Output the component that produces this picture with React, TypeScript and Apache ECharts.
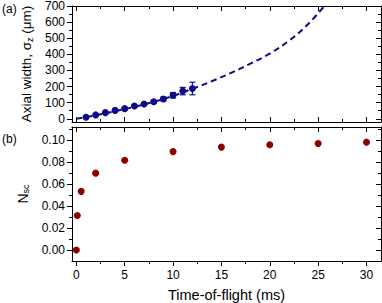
import React, { useEffect, useRef } from 'react';
import * as echarts from 'echarts';

// Panel (a): axial width vs time-of-flight
const timeA = [1, 2, 3, 4, 5, 6, 7, 8, 9, 10, 11, 12];
const sigmaZ = [10, 24, 38, 52, 63, 79, 92, 106, 123, 146, 172, 188];
const sigmaErr = [4, 4, 5, 5, 6, 6, 7, 8, 12, 17, 23, 39];
// dashed fit curve
const fitTime = [0, 2, 4, 6, 8, 10, 12, 14, 16, 18, 20, 22, 24, 26];
const fitSigma = [0, 22, 47, 74, 105, 142, 186, 233, 285, 342, 405, 485, 590, 725];

// Panel (b): N_sc vs time-of-flight
const timeB = [0, 0.1, 0.5, 2, 5, 10, 15, 20, 25, 30];
const nsc = [0, 0.0314, 0.0534, 0.07, 0.0818, 0.0896, 0.0937, 0.0959, 0.097, 0.0982];

// ticks
const xMajor = [0, 5, 10, 15, 20, 25, 30];
const xMinor = [2.5, 7.5, 12.5, 17.5, 22.5, 27.5];
const yMajorA = [0, 100, 200, 300, 400, 500, 600, 700];
const yMinorA = [50, 150, 250, 350, 450, 550, 650];
const yMajorB = [0, 0.02, 0.04, 0.06, 0.08, 0.1];
const yMinorB = [0.01, 0.03, 0.05, 0.07, 0.09, 0.11];

const X_MIN = -0.45;
const X_MAX = 31.5;
const YA_MIN = -20;
const YA_MAX = 700;
const YB_MIN = -0.01;
const YB_MAX = 0.112;

const NAVY = '#0c0c8a';
const DARKRED = '#8e0000';
const FONT = "'Liberation Sans', Arial, sans-serif";

const line = { color: '#000', width: 1 };

function xAx(gridIndex: number, position: string, values: number[], len: number, inside: boolean, showLine: boolean, extra: any = {}) {
  return {
    type: 'value', gridIndex, position, min: X_MIN, max: X_MAX,
    axisLine: { show: showLine, onZero: false, lineStyle: line },
    axisTick: { show: true, inside, length: len, customValues: values, lineStyle: line },
    axisLabel: { show: false, customValues: values },
    splitLine: { show: false },
    ...extra,
  };
}

function yAx(gridIndex: number, position: string, min: number, max: number, values: number[], len: number, inside: boolean, showLine: boolean, extra: any = {}) {
  return {
    type: 'value', gridIndex, position, min, max,
    axisLine: { show: showLine, onZero: false, lineStyle: line },
    axisTick: { show: true, inside, length: len, customValues: values, lineStyle: line },
    axisLabel: { show: false, customValues: values },
    splitLine: { show: false },
    ...extra,
  };
}

const tickLabel = { fontSize: 12, color: '#000', fontFamily: FONT };

export default function App() {
  const ref = useRef<HTMLDivElement>(null);
  useEffect(() => {
    const chart = echarts.init(ref.current!, null, { renderer: 'svg' });
    const option: any = {
      animation: false,
      textStyle: { fontFamily: FONT },
      grid: [
        { left: 72, right: 1, top: 4, height: 118 },
        { left: 72, right: 1, top: 127, height: 136 },
      ],
      xAxis: [
        xAx(0, 'bottom', xMajor, 5, true, true),
        xAx(0, 'bottom', xMinor, 3, true, false),
        xAx(0, 'top', xMajor, 5, true, true),
        xAx(0, 'top', xMinor, 3, true, false),
        xAx(1, 'bottom', xMajor, 5, false, true, {
          axisLabel: { show: true, customValues: xMajor, margin: 8, ...tickLabel },
          name: 'Time-of-flight (ms)', nameLocation: 'middle', nameGap: 26,
          nameTextStyle: { fontSize: 14.5, color: '#000', fontFamily: FONT },
        }),
        xAx(1, 'bottom', xMinor, 3, false, false),
        xAx(1, 'top', xMajor, 5, true, true),
        xAx(1, 'top', xMinor, 3, true, false),
      ],
      yAxis: [
        yAx(0, 'left', YA_MIN, YA_MAX, yMajorA, 5, false, true, {
          axisLabel: { show: true, customValues: yMajorA, margin: 7, ...tickLabel },
          name: 'Axial width, σ{sub|z} (μm)', nameLocation: 'middle', nameGap: 34,
          nameTextStyle: {
            fontSize: 13.5, color: '#000', fontFamily: FONT, lineHeight: 16,
            rich: { sub: { fontSize: 9, fontFamily: FONT, color: '#000', verticalAlign: 'bottom', lineHeight: 9 } },
          },
        }),
        yAx(0, 'left', YA_MIN, YA_MAX, yMinorA, 3, false, false),
        yAx(0, 'right', YA_MIN, YA_MAX, yMajorA, 5, true, true),
        yAx(0, 'right', YA_MIN, YA_MAX, yMinorA, 3, true, false),
        yAx(1, 'left', YB_MIN, YB_MAX, yMajorB, 5, false, true, {
          axisLabel: { show: true, customValues: yMajorB, margin: 7, formatter: (v: number) => v.toFixed(2), ...tickLabel },
          name: 'N{sub|sc}', nameLocation: 'middle', nameGap: 40,
          nameTextStyle: {
            fontSize: 14, color: '#000', fontFamily: FONT, lineHeight: 16,
            rich: { sub: { fontSize: 9, fontFamily: FONT, color: '#000', verticalAlign: 'bottom', lineHeight: 9 } },
          },
        }),
        yAx(1, 'left', YB_MIN, YB_MAX, yMinorB, 3, false, false),
        yAx(1, 'right', YB_MIN, YB_MAX, yMajorB, 5, true, true),
        yAx(1, 'right', YB_MIN, YB_MAX, yMinorB, 3, true, false),
      ],
      series: [
        {
          type: 'line', xAxisIndex: 0, yAxisIndex: 0,
          data: fitTime.map((t, i) => [t, fitSigma[i]]),
          showSymbol: false, smooth: 0.4, clip: true, z: 1,
          lineStyle: { color: NAVY, width: 2, type: [6, 4] },
        },
        {
          type: 'custom', xAxisIndex: 0, yAxisIndex: 0, z: 2,
          data: timeA.map((t, i) => [t, sigmaZ[i] - sigmaErr[i], sigmaZ[i] + sigmaErr[i]]),
          encode: { x: 0, y: [1, 2] },
          renderItem: (_p: any, api: any) => {
            const x = api.value(0);
            const lo = api.coord([x, api.value(1)]);
            const hi = api.coord([x, api.value(2)]);
            const w = 3;
            const style = { stroke: NAVY, lineWidth: 1.2 };
            return {
              type: 'group',
              children: [
                { type: 'line', shape: { x1: lo[0], y1: lo[1], x2: hi[0], y2: hi[1] }, style },
                { type: 'line', shape: { x1: lo[0] - w, y1: lo[1], x2: lo[0] + w, y2: lo[1] }, style },
                { type: 'line', shape: { x1: hi[0] - w, y1: hi[1], x2: hi[0] + w, y2: hi[1] }, style },
              ],
            };
          },
        },
        {
          type: 'scatter', xAxisIndex: 0, yAxisIndex: 0, z: 3,
          data: timeA.map((t, i) => [t, sigmaZ[i]]),
          symbolSize: 7, itemStyle: { color: NAVY, opacity: 1 },
        },
        {
          type: 'scatter', xAxisIndex: 4, yAxisIndex: 4, z: 3,
          data: timeB.map((t, i) => [t, nsc[i]]),
          symbolSize: 7, itemStyle: { color: DARKRED, opacity: 1 },
        },
      ],
      graphic: [
        { type: 'text', left: 2, top: 3, style: { text: '(a)', fontSize: 12, fill: '#000', fontFamily: FONT } },
        { type: 'text', left: 2, top: 133, style: { text: '(b)', fontSize: 12, fill: '#000', fontFamily: FONT } },
      ],
    };
    chart.setOption(option);
    return () => chart.dispose();
  }, []);
  return <div ref={ref} style={{ width: 382, height: 303, position: 'absolute', left: 0, top: 0 }} />;
}
